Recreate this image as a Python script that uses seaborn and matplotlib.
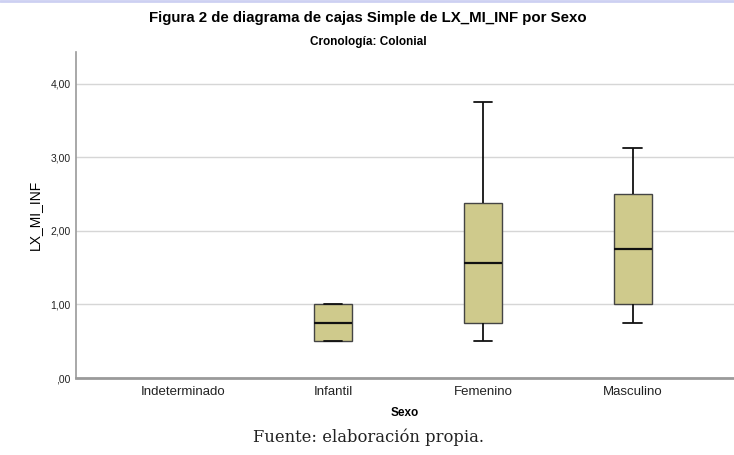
import matplotlib
matplotlib.use("Agg")
import matplotlib.pyplot as plt
from matplotlib.lines import Line2D
import seaborn as sns
import pandas as pd

# ---- data (five-number summaries) ----
categories = ["Indeterminado", "Infantil", "Femenino", "Masculino"]
whisker_low = {"Infantil": 0.50, "Femenino": 0.50, "Masculino": 0.75}
q1 = {"Infantil": 0.50, "Femenino": 0.75, "Masculino": 1.00}
median = {"Infantil": 0.75, "Femenino": 1.5625, "Masculino": 1.75}
q3 = {"Infantil": 1.00, "Femenino": 2.375, "Masculino": 2.50}
whisker_high = {"Infantil": 1.00, "Femenino": 3.75, "Masculino": 3.125}
y_ticks = [0, 1, 2, 3, 4]
y_ticklabels = [",00", "1,00", "2,00", "3,00", "4,00"]

rows = []
for c in categories:
    if c in median:
        for v in (whisker_low[c], q1[c], median[c], q3[c], whisker_high[c]):
            rows.append({"Sexo": c, "LX_MI_INF": v})
df = pd.DataFrame(rows)

sns.set_theme(style="white")
plt.rcParams["font.family"] = ["Liberation Sans", "DejaVu Sans"]

fig = plt.figure(figsize=(7.34, 4.55), dpi=100)
ax = fig.add_axes([76 / 734, 1 - 378 / 455, (734 - 76) / 734, (378 - 52) / 455])

sns.boxplot(
    data=df, x="Sexo", y="LX_MI_INF", order=categories, ax=ax,
    width=0.25, color="#CFCA8C", linecolor="#2a2a2a", linewidth=1.0,
    saturation=1, whis=1.5, showfliers=False,
    medianprops={"color": "#111111", "linewidth": 1.6},
    whiskerprops={"color": "#111111", "linewidth": 1.3},
    capprops={"color": "#111111", "linewidth": 1.3},
    boxprops={"edgecolor": "#444444"},
    zorder=3,
)

ax.set_ylim(0, 4.435)
ax.set_xlim(-0.715, 3.675)
ax.set_yticks(y_ticks)
ax.set_yticklabels(y_ticklabels, fontsize=7.5, color="#222222")
ax.set_xticks(range(len(categories)))
ax.set_xticklabels(categories, fontsize=9.5, color="#222222")
ax.yaxis.grid(True, color="#d6d6d6", linewidth=1.0, zorder=0)
ax.set_axisbelow(True)
ax.tick_params(axis="both", length=0, pad=4)
ax.tick_params(axis="x", pad=6)

for s in ["top", "right"]:
    ax.spines[s].set_visible(False)
ax.spines["left"].set_color("#9a9a9a")
ax.spines["left"].set_linewidth(1.2)
ax.spines["bottom"].set_color("#9a9a9a")
ax.spines["bottom"].set_linewidth(2.0)

ax.set_xlabel("Sexo", fontsize=8.5, fontweight="bold", labelpad=6, color="black")
ax.set_ylabel("LX_MI_INF", fontsize=10, labelpad=6, color="black")

fig.text(0.5015, 1 - 18 / 455, "Figura 2 de diagrama de cajas Simple de LX_MI_INF por Sexo",
         ha="center", va="center", fontsize=10.8, fontweight="bold", color="black")
fig.text(0.5015, 1 - 42 / 455, "Cronología: Colonial",
         ha="center", va="center", fontsize=8.5, fontweight="bold", color="black")
fig.text(0.5015, 1 - 437 / 455, "Fuente: elaboración propia.",
         ha="center", va="center", fontsize=11.8, family=["DejaVu Serif"], color="#222222")

fig.add_artist(Line2D([0, 1], [1 - 1 / 455, 1 - 1 / 455], transform=fig.transFigure,
                      color="#cdd0f2", linewidth=2))

fig.savefig("out.png", dpi=100)
